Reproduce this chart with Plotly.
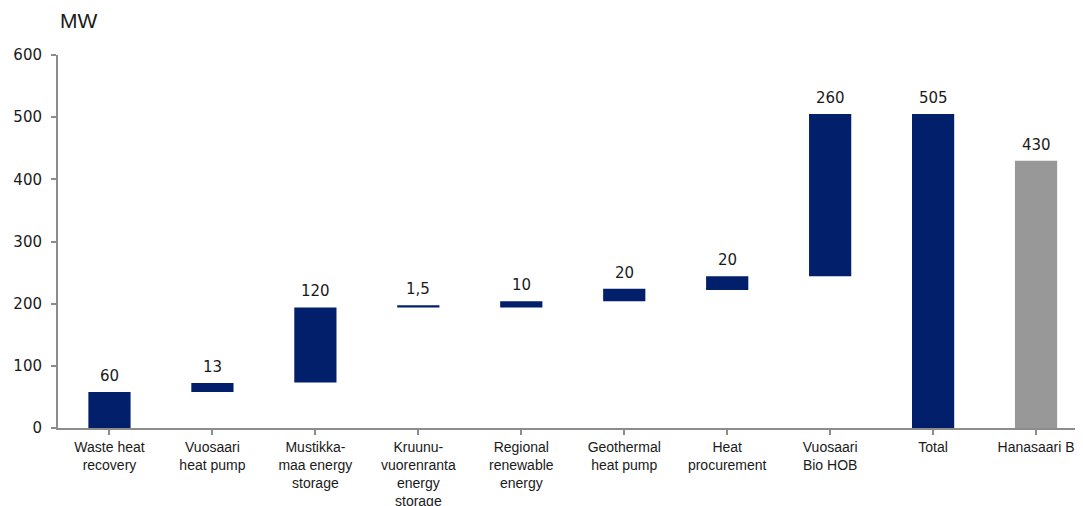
import plotly.graph_objects as go

categories = ["Waste heat<br>recovery", "Vuosaari<br>heat pump", "Mustikka-<br>maa energy<br>storage",
              "Kruunu-<br>vuorenranta<br>energy<br>storage", "Regional<br>renewable<br>energy",
              "Geothermal<br>heat pump", "Heat<br>procurement", "Vuosaari<br>Bio HOB", "Total", "Hanasaari B"]
bar_base = [0, 58, 73, 194, 194, 204, 222, 244, 0, 0]
bar_top = [58, 72.5, 194, 197.5, 204, 224, 244, 505, 505, 430]
value_labels = ["60", "13", "120", "1,5", "10", "20", "20", "260", "505", "430"]
navy = "#011F6B"
grey = "#989898"
bar_colors = [navy] * 9 + [grey]

heights = [t - b for t, b in zip(bar_top, bar_base)]
x_idx = list(range(len(categories)))

label_font = "DejaVu Sans, Verdana, sans-serif"
arial = "Liberation Sans, Arial, sans-serif"

fig = go.Figure()
fig.add_trace(go.Bar(
    x=x_idx, y=heights, base=bar_base, width=0.41,
    marker=dict(color=bar_colors, line=dict(width=0)),
    hoverinfo="skip", showlegend=False,
))

for i, (t, lab) in enumerate(zip(bar_top, value_labels)):
    fig.add_annotation(x=i, y=t, text=lab, showarrow=False, yanchor="bottom",
                       yshift=5, font=dict(size=15, color="#1a1a1a", family=label_font))

fig.add_annotation(xref="paper", yref="paper", x=(78 - 58) / 1025, y=1 + (55 - 21) / 373,
                   text="MW", showarrow=False, xanchor="center", yanchor="middle",
                   font=dict(size=21, color="#1a1a1a", family=arial))

fig.update_layout(
    width=1075, height=498,
    margin=dict(l=50, r=0, t=47, b=78),
    plot_bgcolor="white", paper_bgcolor="white",
    font=dict(family=label_font, color="#1a1a1a"),
    xaxis=dict(
        range=[-0.5, 9.456], tickmode="array", tickvals=x_idx, ticktext=categories,
        showline=True, linecolor="#8c8c8c", linewidth=2,
        ticks="outside", ticklen=5, tickcolor="#8c8c8c", tickwidth=2,
        showgrid=False, zeroline=False, tickfont=dict(size=14, color="#1a1a1a", family=arial),
        tickangle=0, fixedrange=True, automargin=False,
    ),
    yaxis=dict(
        range=[0, 600], tickvals=[0, 100, 200, 300, 400, 500, 600],
        showline=True, linecolor="#8c8c8c", linewidth=2,
        ticks="outside", ticklen=5, tickcolor="#8c8c8c", tickwidth=2,
        showgrid=False, zeroline=False, tickfont=dict(size=15, color="#1a1a1a", family=label_font),
        ticklabelstandoff=6, automargin=False,
    ),
)

fig.write_html("out.html")
